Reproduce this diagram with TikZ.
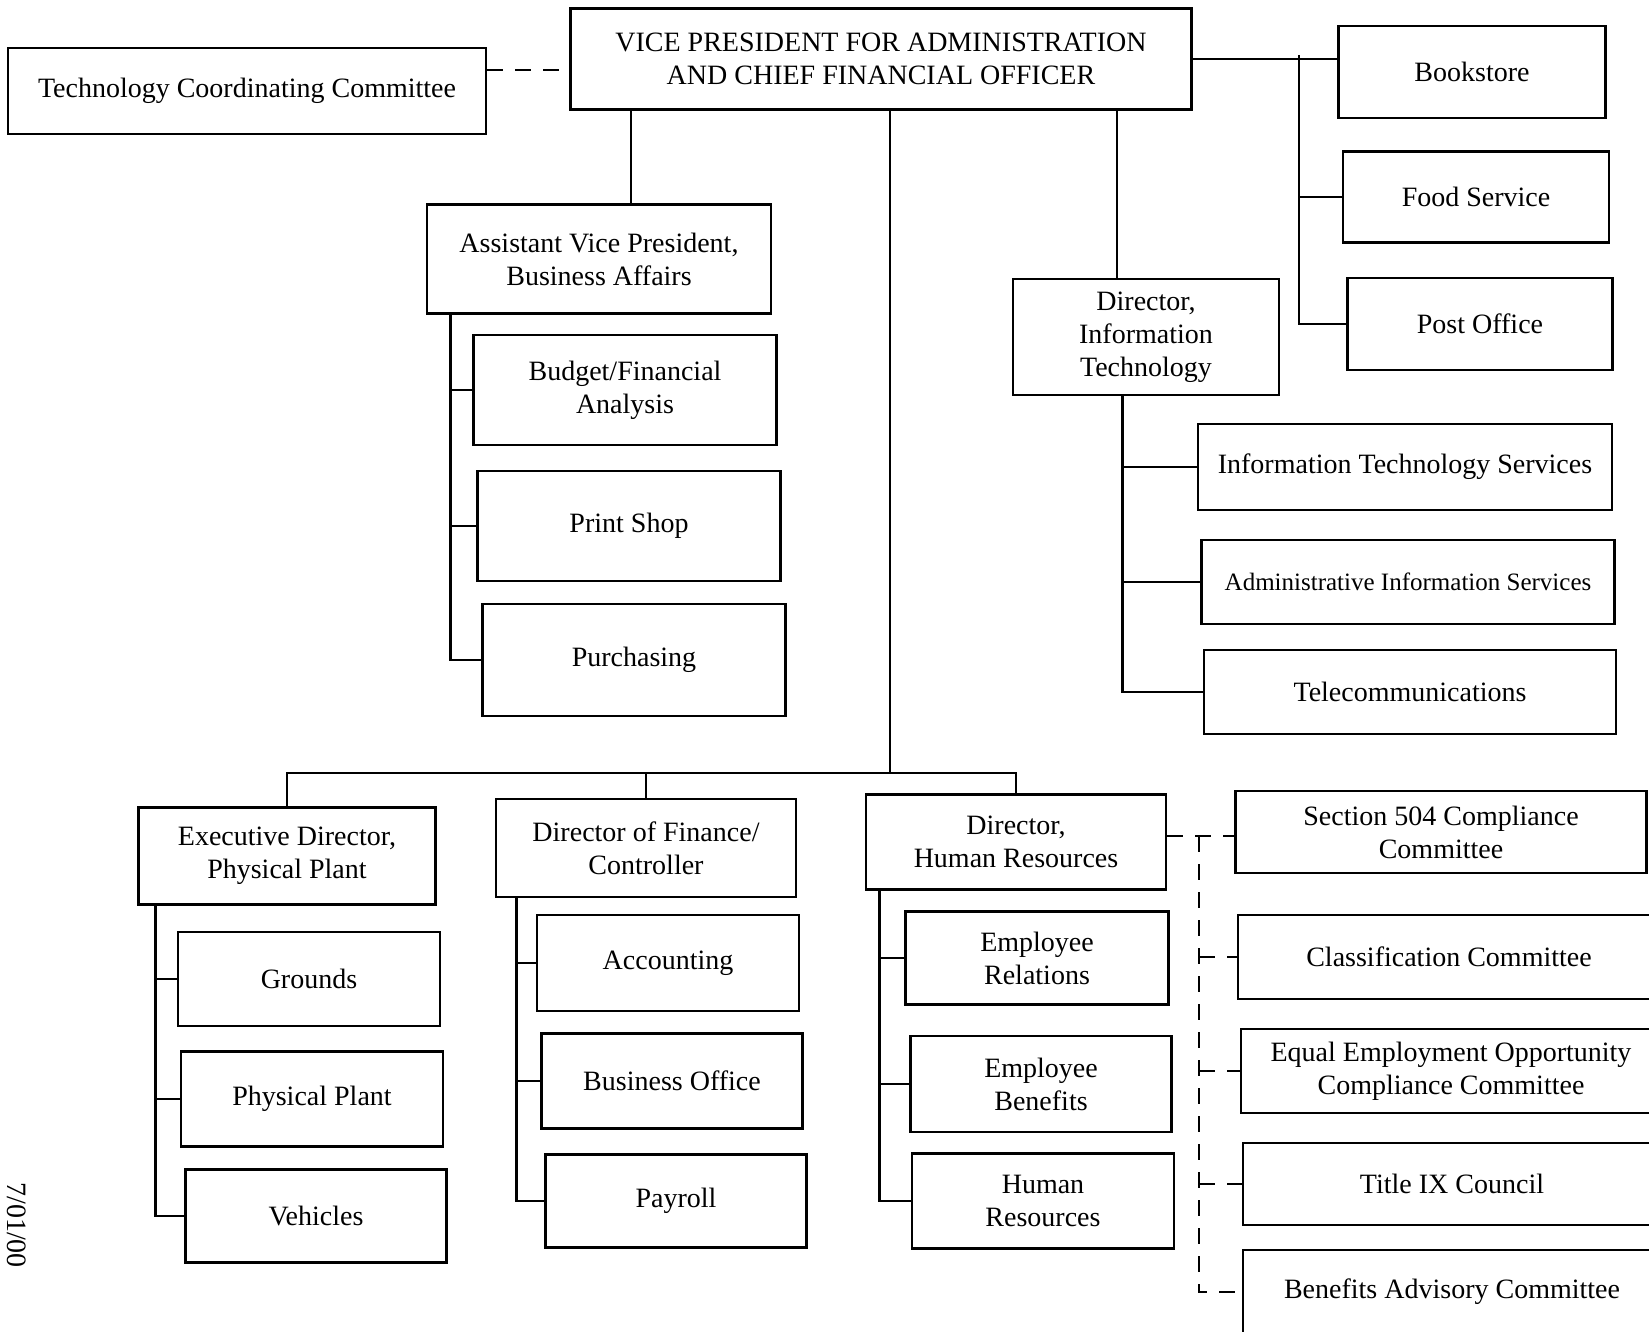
\documentclass[tikz,border=0pt]{standalone}
\usepackage{fontspec}
\setmainfont{Liberation Serif}
\begin{document}
\begin{tikzpicture}[x=0.5pt, y=-0.5pt,
    box/.style={draw, line width=1.4pt, align=center, inner sep=2pt, font=\fontsize{14}{16.5}\selectfont},
    sz/.style 2 args={minimum width=#1*0.5pt, minimum height=#2*0.5pt},
    link/.style={line width=1.4pt},
    dashlink/.style={line width=1.4pt, dash pattern=on 8pt off 6pt}]
    \useasboundingbox (0,0) rectangle (1649,1332);
    \clip (0,0) rectangle (1649,1332);

    % Nodes
    \node[box, sz={621}{101}] (vp) at (881,59) {VICE PRESIDENT FOR ADMINISTRATION\\AND CHIEF FINANCIAL OFFICER}; % Top
    \node[box, sz={478}{86}] (tcc) at (247,91) {Technology Coordinating Committee}; % Top-left
    \node[box, sz={267}{92}] (book) at (1472,72) {Bookstore};      % Top-right
    \node[box, sz={266}{91}] (food) at (1476,197) {Food Service};
    \node[box, sz={265}{92}] (post) at (1480,324) {Post Office};

    \node[box, sz={344}{109}] (avp) at (599,259) {Assistant Vice President,\\Business Affairs};
    \node[box, sz={303}{110}] (budget) at (625,390) {Budget/Financial\\Analysis};
    \node[box, sz={303}{110}] (print) at (629,526) {Print Shop};
    \node[box, sz={303}{112}] (purch) at (634,660) {Purchasing};

    \node[box, sz={266}{116}] (dit) at (1146,337) {Director,\\Information\\Technology};
    \node[box, sz={414}{86}] (its) at (1405,467) {Information Technology Services};
    \node[box, sz={413}{84}, font=\fontsize{12.5}{15}\selectfont] (ais) at (1408,582) {Administrative Information Services};
    \node[box, sz={412}{84}] (tel) at (1410,692) {Telecommunications};

    \node[box, sz={297}{97}] (ed) at (287,856) {Executive Director,\\Physical Plant}; % Bottom-left
    \node[box, sz={262}{94}] (grounds) at (309,979) {Grounds};
    \node[box, sz={262}{95}] (plant) at (312,1099) {Physical Plant};
    \node[box, sz={261}{93}] (vehic) at (316,1216) {Vehicles};

    \node[box, sz={300}{98}] (df) at (646,848) {Director of Finance/\\Controller}; % Bottom-middle
    \node[box, sz={262}{96}] (acct) at (668,963) {Accounting};
    \node[box, sz={261}{95}] (bo) at (672,1081) {Business Office};
    \node[box, sz={261}{93}] (pay) at (676,1201) {Payroll};

    \node[box, sz={300}{95}] (hr) at (1016,842) {Director,\\Human Resources}; % Bottom-right
    \node[box, sz={263}{93}] (er) at (1037,958) {Employee\\Relations};
    \node[box, sz={261}{96}] (eb) at (1041,1084) {Employee\\Benefits};
    \node[box, sz={262}{95}] (hres) at (1043,1201) {Human\\Resources};

    \node[box, sz={411}{82}] (s504) at (1441,832) {Section 504 Compliance\\Committee}; % Far-right
    \node[box, sz={422}{84}] (class) at (1449,957) {Classification Committee};
    \node[box, sz={420}{84}] (eeo) at (1451,1071) {Equal Employment Opportunity\\Compliance Committee};
    \node[box, sz={418}{82}] (tix) at (1452,1184) {Title IX Council};
    \node[box, sz={418}{84}] (ben) at (1452,1292) {Benefits Advisory Committee};

    \node[rotate=-90, inner sep=1pt, font=\fontsize{14}{16}\selectfont] (date) at (17,1225) {7/01/00}; % Margin

    % Edges
    \coordinate (rtrunk) at (1299,55);
    \coordinate (bar) at (890,773);
    \coordinate (dtrunk) at (1199,836);
    \draw[dashlink] ([yshift=10.5pt]tcc.east) -- ([yshift=10.5pt]tcc.east -| vp.west);
    \draw[link] (vp.east) -- (vp.east -| book.west);
    \draw[link] (rtrunk) |- (post.west);
    \draw[link] (rtrunk |- food.west) -- (food.west);
    \draw[link] ([xshift=16pt]avp.north) -- ([xshift=16pt]avp.north |- vp.south);
    \draw[link] ([xshift=-14.5pt]dit.north) -- ([xshift=-14.5pt]dit.north |- vp.south);
    \draw[link] (vp.south -| bar) -- (bar);
    \draw[link] (ed.north) |- (bar) -| (hr.north);
    \draw[link] (bar -| df.north) -- (df.north);

    \draw[link] ([xshift=12.5pt]avp.south west) |- (purch.west);
    \draw[link] ([xshift=12.5pt]avp.south west |- budget.west) -- (budget.west);
    \draw[link] ([xshift=12.5pt]avp.south west |- print.west) -- (print.west);

    \draw[link] ([xshift=55.5pt]dit.south west) |- (tel.west);
    \draw[link] ([xshift=55.5pt]dit.south west |- its.west) -- (its.west);
    \draw[link] ([xshift=55.5pt]dit.south west |- ais.west) -- (ais.west);

    \draw[link] ([xshift=9pt]ed.south west) |- (vehic.west);
    \draw[link] ([xshift=9pt]ed.south west |- grounds.west) -- (grounds.west);
    \draw[link] ([xshift=9pt]ed.south west |- plant.west) -- (plant.west);

    \draw[link] ([xshift=11pt]df.south west) |- (pay.west);
    \draw[link] ([xshift=11pt]df.south west |- acct.west) -- (acct.west);
    \draw[link] ([xshift=11pt]df.south west |- bo.west) -- (bo.west);

    \draw[link] ([xshift=7.5pt]hr.south west) |- (hres.west);
    \draw[link] ([xshift=7.5pt]hr.south west |- er.west) -- (er.west);
    \draw[link] ([xshift=7.5pt]hr.south west |- eb.west) -- (eb.west);

    \draw[dashlink] (hr.east |- dtrunk) -- (dtrunk -| s504.west);
    \draw[dashlink] (dtrunk) |- (ben.west);
    \draw[dashlink] (dtrunk |- class.west) -- (class.west);
    \draw[dashlink] (dtrunk |- eeo.west) -- (eeo.west);
    \draw[dashlink] (dtrunk |- tix.west) -- (tix.west);
\end{tikzpicture}
\end{document}
